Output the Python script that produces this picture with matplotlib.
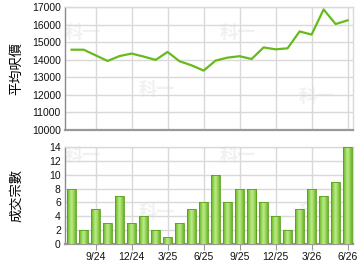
import matplotlib
matplotlib.use("Agg")
import matplotlib.pyplot as plt
from matplotlib.colors import LinearSegmentedColormap
import numpy as np

# monthly data, 7/24 .. 6/26
months = ["7/24", "8/24", "9/24", "10/24", "11/24", "12/24",
          "1/25", "2/25", "3/25", "4/25", "5/25", "6/25",
          "7/25", "8/25", "9/25", "10/25", "11/25", "12/25",
          "1/26", "2/26", "3/26", "4/26", "5/26", "6/26"]
avg_price = [14570, 14570, 14250, 13930, 14210, 14350,
             14180, 13990, 14440, 13910, 13680, 13380,
             13950, 14120, 14200, 14040, 14700, 14590,
             14650, 15610, 15430, 16860, 16030, 16240]
deals = [8, 2, 5, 3, 7, 3, 4, 2, 1, 3, 5, 6,
         10, 6, 8, 8, 6, 4, 2, 5, 8, 7, 9, 14]
tick_labels = ["9/24", "12/24", "3/25", "6/25", "9/25", "12/25", "3/26", "6/26"]

plt.rcParams["font.family"] = ["Liberation Sans", "DejaVu Sans"]
cjk = ["Noto Sans CJK TC", "DejaVu Sans"]

fig = plt.figure(figsize=(3.6, 2.7), dpi=100)
ax1 = fig.add_axes([65 / 360, 1 - 130 / 270, 288 / 360, 123 / 270])
ax2 = fig.add_axes([65 / 360, 1 - 244 / 270, 288 / 360, 97 / 270])

x = np.arange(len(months))
tick_pos = [months.index(t) for t in tick_labels]
grid_c = "#d9d9d9"

for ax in (ax1, ax2):
    ax.set_xlim(-0.55, 23.45)
    ax.set_xticks(tick_pos)
    ax.grid(True, color=grid_c, linewidth=1, zorder=0)
    ax.set_axisbelow(True)
    for s in ("top", "right"):
        ax.spines[s].set_color(grid_c)
        ax.spines[s].set_linewidth(1)
    ax.spines["left"].set_color("#8a8a8a")
    ax.spines["left"].set_linewidth(1)
    ax.spines["bottom"].set_color("#999999")
    ax.spines["bottom"].set_linewidth(1.6)
    ax.tick_params(axis="y", length=0, labelsize=7.5, pad=3, labelcolor="#111111")
    ax.tick_params(axis="x", length=4, color="#999999", labelsize=7.5,
                   labelcolor="#111111", pad=2)

# faint watermarks
for ax, pts in ((ax1, [(0.9, 15540), (7.1, 12300), (13.8, 15540), (20.4, 11900)]),
                (ax2, [(0.9, 12.8), (7.1, 4.5), (13.8, 12.8), (20.4, 4.5)])):
    for px, py in pts:
        ax.text(px, py, "科一", family=cjk, fontsize=13, fontweight="bold",
                color="#f1f1f1", ha="center", va="center", zorder=0.5)

ax1.plot(x, avg_price, color="#66bb1a", linewidth=1.6, zorder=3)
ax1.set_ylim(10000, 17000)
ax1.set_yticks(range(10000, 17001, 1000))
ax1.tick_params(axis="x", labelbottom=False, length=0)
ax1.set_ylabel("平均呎價", family=cjk, fontsize=9.5)
ax1.yaxis.set_label_coords(-0.146, 0.5)

# bars with a horizontal gradient fill
bars = ax2.bar(x, deals, width=0.75, color="none", edgecolor="#5aa018",
               linewidth=0.6, zorder=4)
cmap = LinearSegmentedColormap.from_list(
    "barg", ["#5fae1c", "#8fd24e", "#bfe88e", "#9ad85c", "#66b422"])
grad = np.linspace(0, 1, 64).reshape(1, -1)
for b in bars:
    x0, w, h = b.get_x(), b.get_width(), b.get_height()
    im = ax2.imshow(grad, cmap=cmap, aspect="auto", extent=(x0, x0 + w, 0, h),
                    zorder=3, interpolation="bilinear")
    im.set_clip_path(b)
ax2.set_xlim(-0.55, 23.45)
ax2.set_ylim(0, 14)
ax2.set_yticks(range(0, 15, 2))
ax2.set_xticklabels(tick_labels)
ax2.set_ylabel("成交宗數", family=cjk, fontsize=9.5)
ax2.yaxis.set_label_coords(-0.146, 0.5)

fig.savefig("out.png", dpi=100)
